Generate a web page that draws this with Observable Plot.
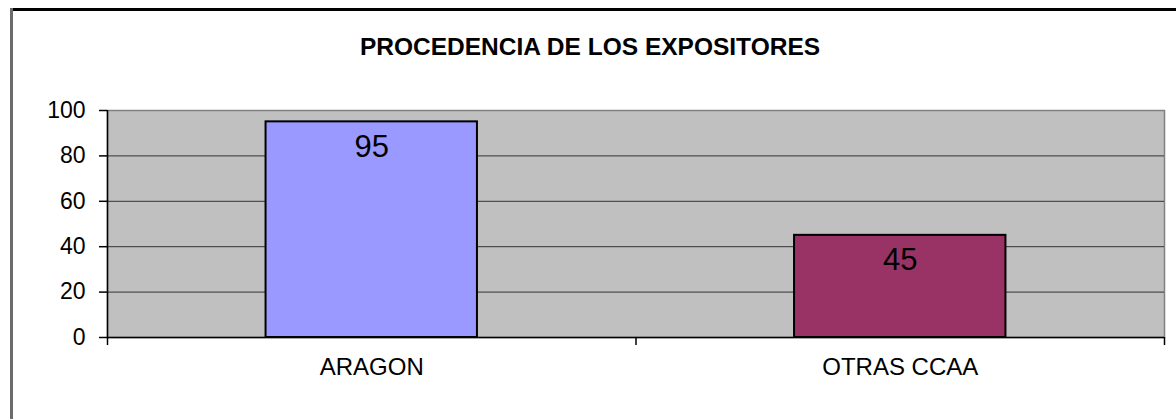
<!DOCTYPE html>
<html>
<head>
<meta charset="utf-8">
<script src="https://cdn.jsdelivr.net/npm/d3@7"></script>
<script src="https://cdn.jsdelivr.net/npm/@observablehq/plot@0.6"></script>
<style>
  html, body { margin: 0; padding: 0; background: #fff; }
  #wrap { position: relative; width: 1176px; height: 419px; overflow: hidden; background: #fff;
          font-family: "Liberation Sans", Arial, sans-serif; }
  #btop { position: absolute; left: 10px; top: 8px; width: 1166px; height: 3px; background: #000; z-index: 5; }
  #bleft { position: absolute; left: 10px; top: 8px; width: 3px; height: 411px; background: #6b6b6b; z-index: 5; }
  #title { position: relative; height: 80px; box-sizing: border-box; padding-top: 31.5px; padding-left: 4px;
           line-height: 30px; text-align: center; font-weight: bold; font-size: 24.5px; color: #000; }
  #chart { position: relative; }
  #chart svg { display: block; }
</style>
</head>
<body>
<div id="wrap">
  <div id="title">PROCEDENCIA DE LOS EXPOSITORES</div>
  <div id="chart"></div>
  <div id="btop"></div>
  <div id="bleft"></div>
</div>
<script>
const categories = ["ARAGON", "OTRAS CCAA"];
const values = [95, 45];
const colors = ["#9999FF", "#993366"];
const yTicks = [0, 20, 40, 60, 80, 100];

const data = categories.map((c, i) => ({cat: c, value: values[i], i}));

const chart = Plot.plot({
  width: 1176,
  height: 339,
  marginTop: 30,
  marginBottom: 82,
  marginLeft: 107,
  marginRight: 12,
  style: {fontFamily: '"Liberation Sans", Arial, sans-serif', background: "transparent", color: "#000", overflow: "visible"},
  x: {domain: [0, categories.length], axis: null},
  y: {domain: [0, 100], axis: null},
  color: {domain: categories, range: colors},
  marks: [
    Plot.frame({fill: "#c0c0c0", stroke: "#808080", strokeWidth: 1.5}),
    Plot.ruleY(yTicks.filter(t => t > 0 && t < 100), {stroke: "#333", strokeWidth: 1}),
    Plot.rectY(data, {x1: d => d.i + 0.3, x2: d => d.i + 0.7, y: "value", fill: "cat", stroke: "#000", strokeWidth: 2}),
    Plot.text(data, {x: d => d.i + 0.5, y: "value", text: d => String(d.value), dy: 25, fontSize: 31, fill: "#000"}),
    Plot.ruleY([0], {stroke: "#000", strokeWidth: 1.5}),
    Plot.ruleX([0], {stroke: "#000", strokeWidth: 1.5}),
    Plot.axisY({ticks: yTicks, tickSize: 8, tickPadding: 14, fontSize: 23, label: null,
                tickFormat: d => String(d), stroke: "#000", strokeWidth: 1.5}),
    Plot.axisX({ticks: d3.range(categories.length + 1), tickSize: 8, tickFormat: () => "", label: null,
                stroke: "#000", strokeWidth: 1.5}),
    Plot.axisX({ticks: categories.map((c, i) => i + 0.5), tickSize: 0, tickPadding: 20, fontSize: 24, label: null,
                tickFormat: d => categories[Math.floor(d)]})
  ]
});
document.getElementById("chart").appendChild(chart);
</script>
</body>
</html>
